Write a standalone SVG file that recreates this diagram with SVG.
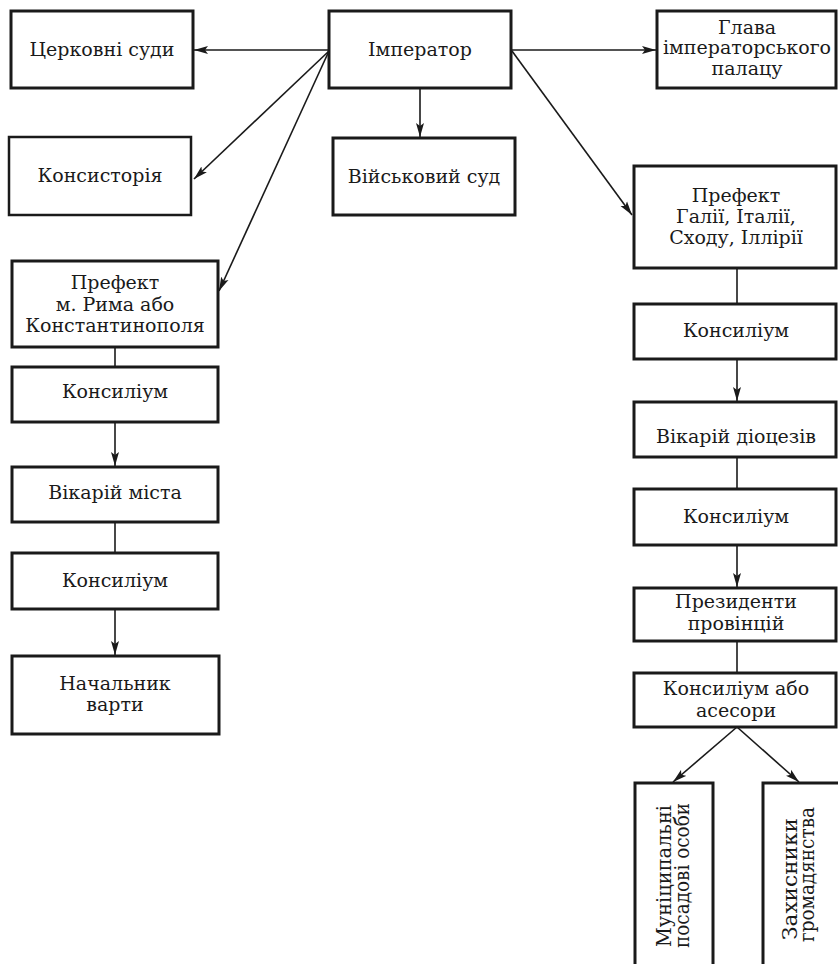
<svg xmlns="http://www.w3.org/2000/svg" width="838" height="964" viewBox="0 0 838 964">
<style>
.box{fill:#fff;stroke:#1a1a1a;stroke-width:3}
.t{font-family:"DejaVu Serif","Liberation Serif",serif;font-size:19px;fill:#1a1a1a;text-anchor:middle}
.v{font-family:"DejaVu Serif","Liberation Serif",serif;font-size:21px;fill:#1a1a1a;text-anchor:start}
.c{fill:none;stroke:#1a1a1a;stroke-width:1.6}
</style>
<defs>
<marker id="ah" markerUnits="userSpaceOnUse" markerWidth="15" markerHeight="9" refX="14" refY="4.5" orient="auto">
<path d="M0,0.5 L14,4.5 L0,8.5 L3,4.5 z" fill="#1a1a1a"/>
</marker>
</defs>
<rect width="838" height="964" fill="#fff"/>
<g id="connectors">
<path class="c" d="M329,50 L194,50" marker-end="url(#ah)"/>
<path class="c" d="M329,51 L194,179" marker-end="url(#ah)"/>
<path class="c" d="M329,51 L219,291" marker-end="url(#ah)"/>
<path class="c" d="M420,89 L420,137" marker-end="url(#ah)"/>
<path class="c" d="M511,50 L656,50" marker-end="url(#ah)"/>
<path class="c" d="M512,51 L632,215" marker-end="url(#ah)"/>
<path class="c" d="M115,347 V367"/>
<path class="c" d="M115,422 V466" marker-end="url(#ah)"/>
<path class="c" d="M115,522 V553"/>
<path class="c" d="M115,609 V655" marker-end="url(#ah)"/>
<path class="c" d="M737,268 V304"/>
<path class="c" d="M737,359 V401" marker-end="url(#ah)"/>
<path class="c" d="M737,457 V489"/>
<path class="c" d="M737,545 V587" marker-end="url(#ah)"/>
<path class="c" d="M737,641 V673"/>
<path class="c" d="M737,727 L673,782" marker-end="url(#ah)"/>
<path class="c" d="M737,727 L799,782" marker-end="url(#ah)"/>
</g>
<g id="n-church-courts"><rect class="box" x="11" y="11" width="182" height="77"/><text class="t" x="102" y="56">Церковні суди</text></g>
<g id="n-emperor"><rect class="box" x="329" y="11" width="182" height="77"/><text class="t" x="420" y="56">Імператор</text></g>
<g id="n-palace-head"><rect class="box" x="657" y="11" width="179" height="77"/><text class="t" x="747" y="34">Глава</text><text class="t" x="747" y="54">імператорського</text><text class="t" x="747" y="75">палацу</text></g>
<g id="n-consistory"><rect class="box" style="stroke-width:2.5" x="9" y="137" width="182" height="78"/><text class="t" x="100" y="182">Консисторія</text></g>
<g id="n-military-court"><rect class="box" x="333" y="138" width="182" height="77"/><text class="t" x="424" y="183">Військовий суд</text></g>
<g id="n-prefect-regions"><rect class="box" x="634" y="166" width="202" height="102"/><text class="t" x="736" y="202">Префект</text><text class="t" x="736" y="223">Галії, Італії,</text><text class="t" x="736" y="244">Сходу, Іллірії</text></g>
<g id="n-prefect-city"><rect class="box" x="12" y="261" width="206" height="86"/><text class="t" x="115" y="289">Префект</text><text class="t" x="115" y="311">м. Рима або</text><text class="t" x="115" y="332">Константинополя</text></g>
<g id="n-consilium-l1"><rect class="box" x="12" y="367" width="206" height="55"/><text class="t" x="115" y="398">Консиліум</text></g>
<g id="n-vicar-city"><rect class="box" x="12" y="467" width="206" height="55"/><text class="t" x="115" y="499">Вікарій міста</text></g>
<g id="n-consilium-l2"><rect class="box" x="12" y="553" width="206" height="56"/><text class="t" x="115" y="587">Консиліум</text></g>
<g id="n-guard-chief"><rect class="box" x="12" y="656" width="207" height="78"/><text class="t" x="115" y="690">Начальник</text><text class="t" x="115" y="711">варти</text></g>
<g id="n-consilium-r1"><rect class="box" x="634" y="304" width="202" height="55"/><text class="t" x="736" y="337">Консиліум</text></g>
<g id="n-vicar-dioceses"><rect class="box" x="634" y="402" width="202" height="55"/><text class="t" x="736" y="443">Вікарій діоцезів</text></g>
<g id="n-consilium-r2"><rect class="box" x="634" y="489" width="202" height="56"/><text class="t" x="736" y="523">Консиліум</text></g>
<g id="n-presidents"><rect class="box" x="634" y="588" width="202" height="53"/><text class="t" x="736" y="608">Президенти</text><text class="t" x="736" y="630">провінцій</text></g>
<g id="n-consilium-assessors"><rect class="box" x="634" y="673" width="202" height="54"/><text class="t" x="736" y="695">Консиліум або</text><text class="t" x="736" y="717">асесори</text></g>
<g id="n-municipal"><rect class="box" x="635" y="783" width="78" height="190"/>
<text class="v" transform="translate(671,947) rotate(-90)" x="0" y="0" textLength="142" lengthAdjust="spacingAndGlyphs">Муніципальні</text>
<text class="v" transform="translate(689,948) rotate(-90)" x="0" y="0" textLength="145" lengthAdjust="spacingAndGlyphs">посадові особи</text></g>
<g id="n-defenders"><rect class="box" x="763" y="783" width="80" height="190"/>
<text class="v" transform="translate(797,940) rotate(-90)" x="0" y="0" textLength="122" lengthAdjust="spacingAndGlyphs">Захисники</text>
<text class="v" transform="translate(814,942) rotate(-90)" x="0" y="0" textLength="135" lengthAdjust="spacingAndGlyphs">громадянства</text></g>
</svg>
